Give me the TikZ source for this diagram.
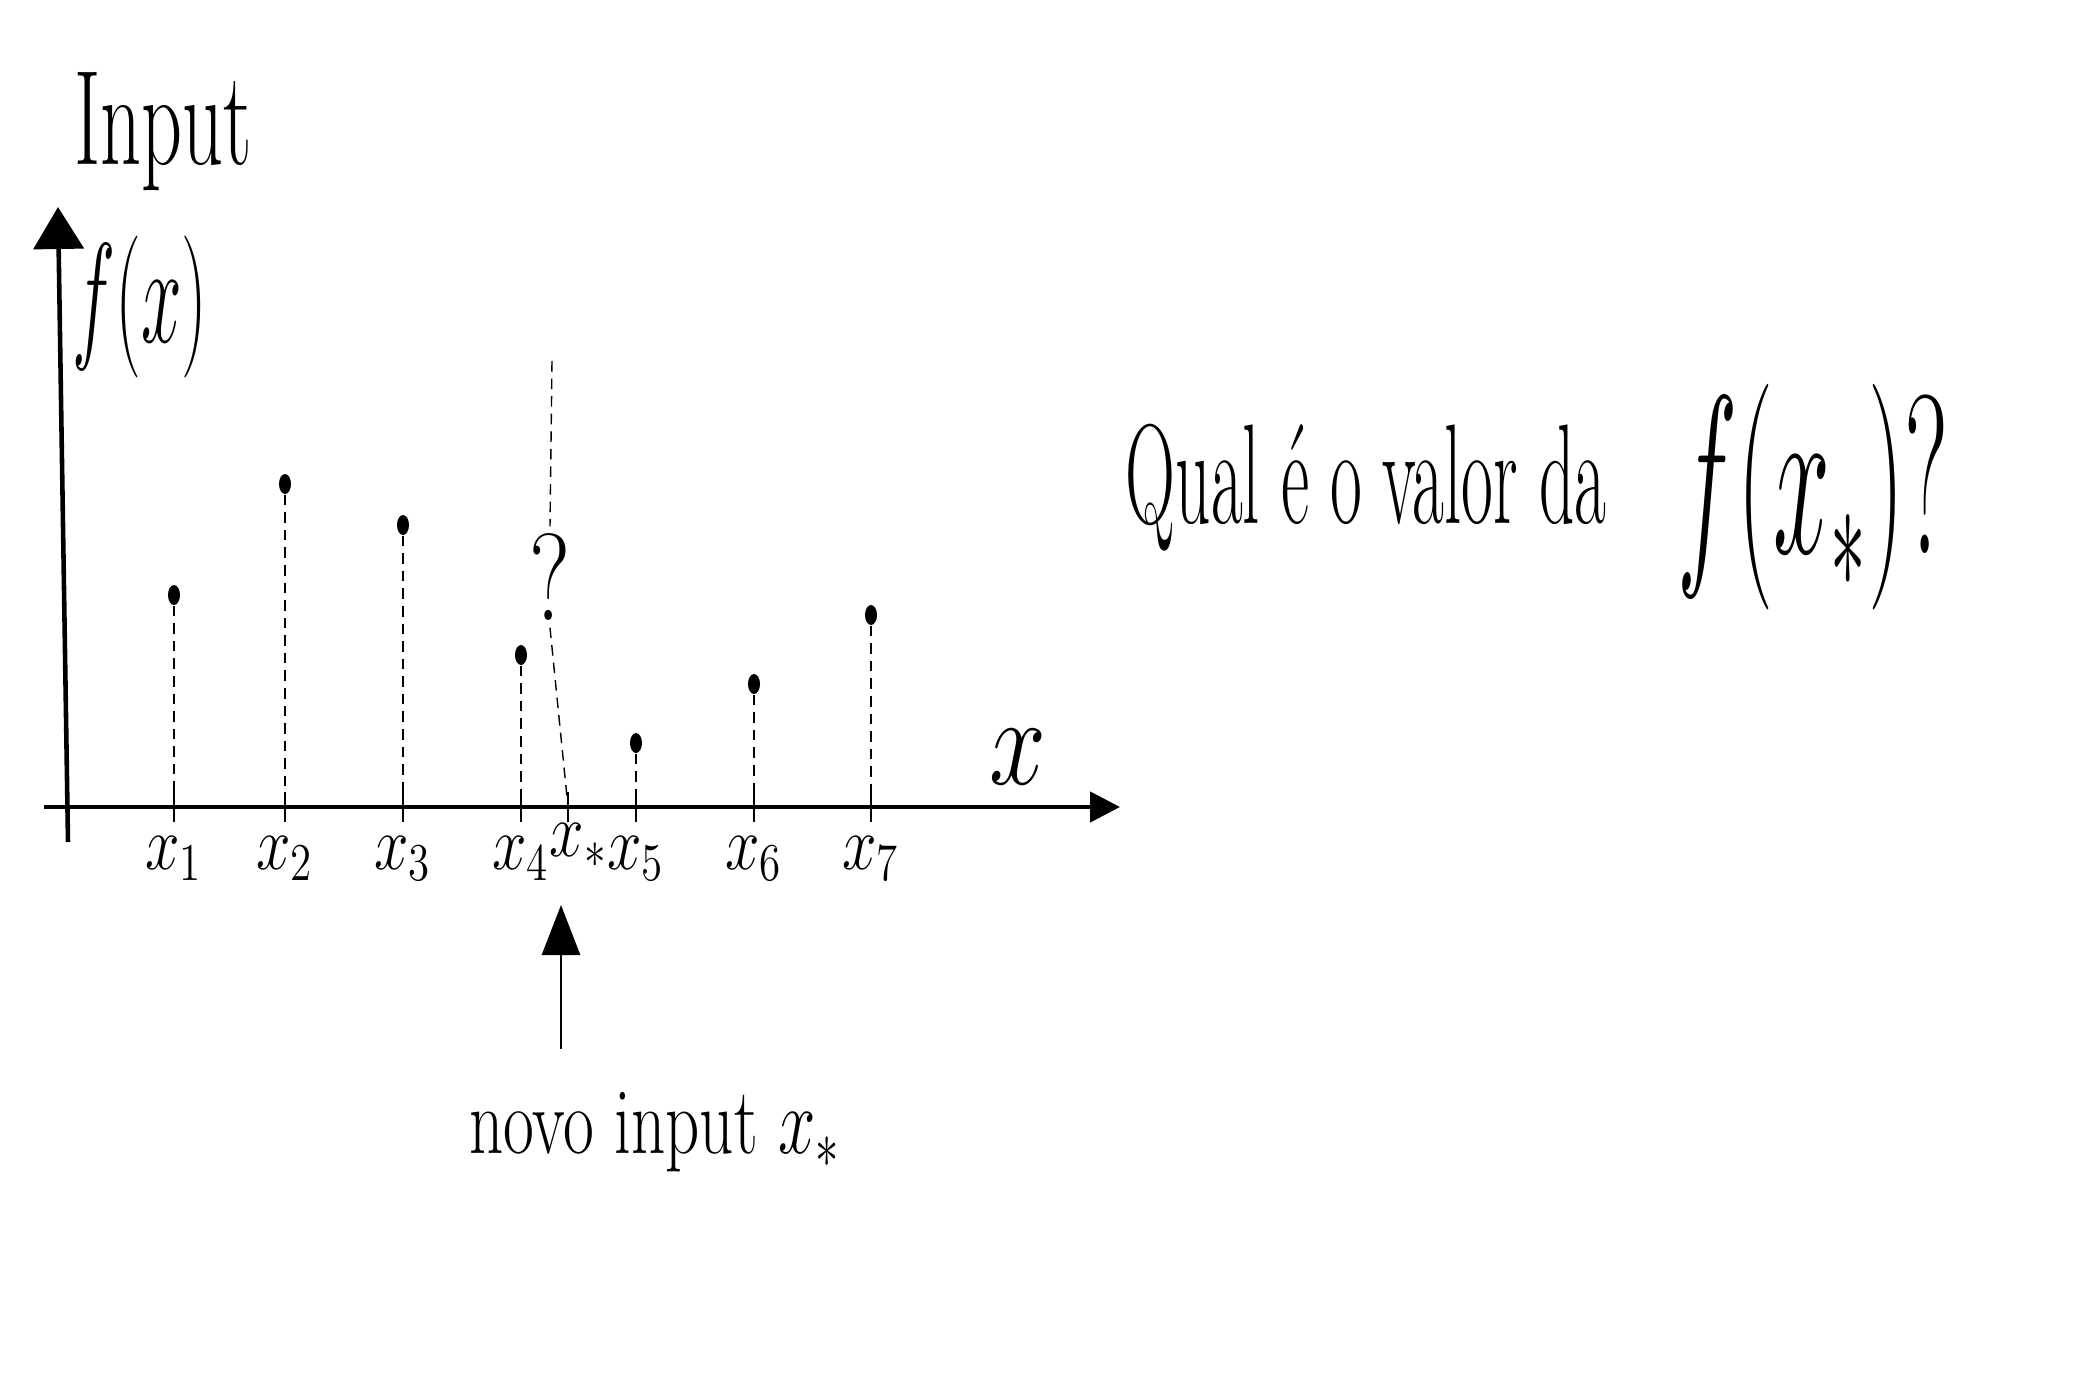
\documentclass[tikz,border=0pt]{standalone}
\usepackage{amsmath,amssymb}
\usetikzlibrary{arrows.meta,shapes.geometric,positioning}

\begin{document}
\begin{tikzpicture}[
    dot/.style={ellipse,fill=black,inner sep=0pt,minimum width=.12cm,minimum height=.2cm},
    guide/.style={densely dashed,thin},
    axis/.style={line width=1.3pt},
    hand/.style={transform shape,inner sep=1pt,font=\fontsize{20.74}{24}\selectfont},
    lbl/.style={hand,xscale=.85,yscale=1.05}]
  \useasboundingbox (0,0) rectangle (20.95,13.87);
  % eixos
  \coordinate (ybot) at (0.68,5.45);
  \coordinate (ytop) at (0.58,11.8);
  \coordinate (xleft) at (0.44,5.8);
  \coordinate (xright) at (11.2,5.8);
  \draw[axis,-{Triangle[length=.42cm,width=.5cm]}] (ybot) -- (ytop);
  \draw[axis,-{Triangle[length=.3cm,width=.3cm]}] (xleft) -- (xright);
  \node[hand,xscale=1.1,yscale=1.85] (inputlbl) at (1.63,12.55) {Input};
  \node[hand,xscale=1,yscale=1.95] (fxlbl) at (1.4,10.8) {$f(x)$};
  \node[hand,xscale=1.4,yscale=1.75] (xlbl) at (10.18,6.3) {$x$};
  % pontos observados
  \foreach \i/\x/\y in {1/1.74/7.92,2/2.85/9.03,3/4.03/8.62,4/5.21/7.32,5/6.36/6.44,6/7.54/7.03,7/8.71/7.72}{
    \coordinate (t\i) at (\x,5.8);
    \node[dot] (p\i) at (\x,\y) {};
    \draw[guide] (p\i) -- (t\i);
    \draw[thick] ([yshift=-.15cm]t\i) -- ([yshift=.15cm]t\i);
    \node[lbl,below=.25cm of t\i] (l\i) {$x_{\i}$};
  }
  % novo ponto
  \coordinate (ts) at (5.68,5.8);
  \draw[thick] ([yshift=-.15cm]ts) -- ([yshift=.15cm]ts);
  \node[lbl,below right=.12cm and -.22cm of ts] (ls) {$x_*$};
  \coordinate (qtop) at (5.52,10.26);
  \node[hand,xscale=1.3,yscale=1.7] (qmark) at (5.5,8.1) {?};
  \draw[guide] (qtop) -- (qmark.north);
  \draw[guide] (qmark.south) -- (ts);
  \coordinate (arrtail) at (5.61,3.38);
  \coordinate (arrtip) at (5.61,4.82);
  \draw[thick,-{Triangle[length=.5cm,width=.38cm]}] (arrtail) -- (arrtip);
  \node[hand,xscale=.92,yscale=1.3] (novo) at (6.55,2.55) {novo input $x_*$};
  % pergunta
  \node[hand,xscale=.95,yscale=1.95] (qual) at (13.66,8.99) {Qual \'e o valor da};
  \node[hand,xscale=1.4,yscale=3.1] (fxs) at (18.13,8.9) {$f(x_*)$?};
\end{tikzpicture}
\end{document}
